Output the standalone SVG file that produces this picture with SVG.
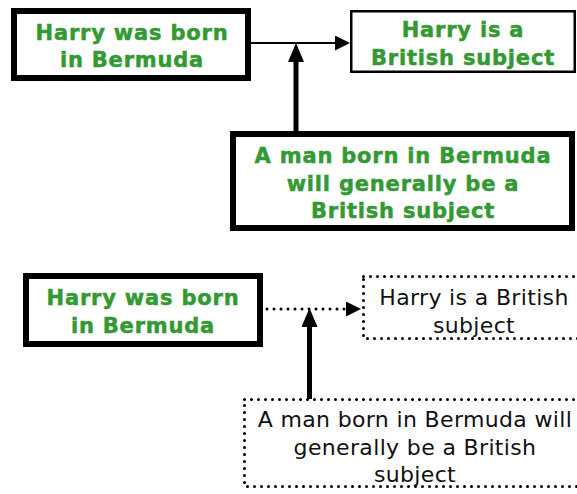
<svg xmlns="http://www.w3.org/2000/svg" width="577" height="494" viewBox="0 0 577 494">
<style>
.bold{font-family:"DejaVu Sans",Verdana,sans-serif;font-weight:bold;font-size:21px;fill:#339933;stroke:#339933;stroke-width:0.5px;letter-spacing:0.8px;text-anchor:middle}
.reg{font-family:"DejaVu Sans",Verdana,sans-serif;font-size:22px;fill:#111;letter-spacing:0.35px;text-anchor:middle}
.thick{fill:#fff;stroke:#000;stroke-width:6}
.thin{fill:#fff;stroke:#000;stroke-width:2.5}
.dot{fill:#fff;stroke:#000;stroke-width:3;stroke-dasharray:0 7;stroke-linecap:round}
.conn{stroke:#000;fill:none}
</style>
<defs>
<marker id="ah" markerUnits="userSpaceOnUse" markerWidth="15" markerHeight="15" refX="0" refY="7.5" orient="auto"><path d="M0,0 L15,7.5 L0,15 z" fill="#000"/></marker>
<marker id="ahb" markerUnits="userSpaceOnUse" markerWidth="19" markerHeight="16" refX="0" refY="8" orient="auto"><path d="M0,0 L19,8 L0,16 z" fill="#000"/></marker>
</defs>
<g id="connectors">
<line class="conn" x1="251" y1="43" x2="335" y2="43" stroke-width="2" marker-end="url(#ah)"/>
<line class="conn" x1="296" y1="132" x2="296" y2="62" stroke-width="5" marker-end="url(#ahb)"/>
<line class="conn" x1="267" y1="309" x2="346" y2="309" stroke-width="3" stroke-dasharray="0 7" stroke-linecap="round" marker-end="url(#ah)"/>
<line class="conn" x1="309.5" y1="399" x2="309.5" y2="327" stroke-width="5" marker-end="url(#ahb)"/>
</g>
<g id="n1">
<rect class="thick" x="14" y="11" width="234" height="67"/>
<text class="bold" x="132" y="40">Harry was born</text>
<text class="bold" x="132" y="67">in Bermuda</text>
</g>
<g id="n2">
<rect class="thin" x="351.25" y="11.25" width="223.5" height="60.5"/>
<text class="bold" x="463" y="37">Harry is a</text>
<text class="bold" x="463" y="65">British subject</text>
</g>
<g id="n3">
<rect class="thick" x="233" y="134" width="339" height="94"/>
<text class="bold" x="403" y="163">A man born in Bermuda</text>
<text class="bold" x="403" y="191">will generally be a</text>
<text class="bold" x="403" y="218">British subject</text>
</g>
<g id="n4">
<rect class="thick" x="26" y="276" width="234" height="68"/>
<text class="bold" x="143" y="305">Harry was born</text>
<text class="bold" x="143" y="333">in Bermuda</text>
</g>
<g id="n5">
<rect class="dot" x="363.5" y="276.5" width="230" height="62"/>
<text class="reg" x="474" y="305">Harry is a British</text>
<text class="reg" x="474" y="333">subject</text>
</g>
<g id="n6">
<rect class="dot" x="244.5" y="399.5" width="350" height="87"/>
<text class="reg" x="415" y="427">A man born in Bermuda will</text>
<text class="reg" x="415" y="455">generally be a British</text>
<text class="reg" x="415" y="482">subject</text>
</g>
</svg>
